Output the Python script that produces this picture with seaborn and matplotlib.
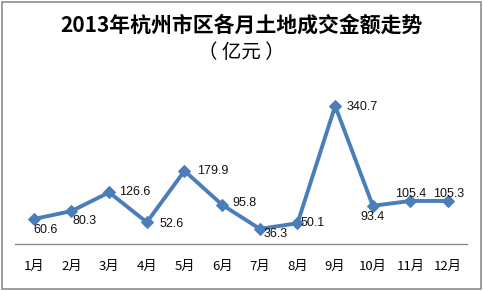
import matplotlib
matplotlib.use("Agg")
import matplotlib.pyplot as plt
import seaborn as sns
import pandas as pd
from matplotlib.patches import Rectangle

months = ["1月", "2月", "3月", "4月", "5月", "6月", "7月", "8月", "9月", "10月", "11月", "12月"]
values = [60.6, 80.3, 126.6, 52.6, 179.9, 95.8, 36.3, 50.1, 340.7, 93.4, 105.4, 105.3]
labels = ["60.6", "80.3", "126.6", "52.6", "179.9", "95.8", "36.3", "50.1", "340.7", "93.4", "105.4", "105.3"]

sns.set_theme(style="white")
plt.rcParams['font.family'] = ['Noto Sans CJK SC', 'DejaVu Sans']

df = pd.DataFrame({"month": months, "value": values})

W, H = 483, 291
fig = plt.figure(figsize=(W / 100, H / 100), dpi=100)
ax = fig.add_axes([15 / W, 1 - 243.5 / H, (467 - 15) / W, (243.5 - 82) / H])

color = "#4a7ebb"
sns.lineplot(data=df, x="month", y="value", ax=ax, color=color, linewidth=2.8,
             marker="D", markersize=6.5, markeredgecolor=color, sort=False)

ax.set_xlim(-0.5, 11.5)
ax.set_ylim(0, 400)
ax.set_xlabel("")
ax.set_ylabel("")
ax.set_yticks([])
for s in ["top", "left", "right"]:
    ax.spines[s].set_visible(False)
ax.spines["bottom"].set_color("#888888")
ax.spines["bottom"].set_linewidth(1)
ax.tick_params(axis="x", length=0, labelsize=9.5, pad=12, colors="black")

# label offsets in points (dx, dy) and alignment
offs = [(0, -8, "left"), (1, -7, "left"), (7, 0, "left"), (9, -1, "left"),
        (9, 0, "left"), (7, 1, "left"), (3, -4, "left"), (2, 0, "left"),
        (8, -1, "left"), (0, -8, "center"), (0, 5, "center"), (0, 5, "center")]
for i, (v, lab) in enumerate(zip(values, labels)):
    dx, dy, ha = offs[i]
    ax.annotate(lab, (i, v), xytext=(dx, dy), textcoords="offset points",
                ha=ha, va="center", fontsize=9, color="#111111", family="Liberation Sans")

fig.text(0.5, 1 - 25 / H, "2013年杭州市区各月土地成交金额走势", ha="center", va="center",
         fontsize=15, fontweight="bold", color="black")
fig.text(0.5, 1 - 52 / H, "（ 亿元 ）", ha="center", va="center", fontsize=14, color="black")

fig.patches.append(Rectangle((2 / W, 2 / H), (W - 4) / W, (H - 4) / H, transform=fig.transFigure,
                             fill=False, edgecolor="#8c8c8c", linewidth=1.2))

fig.savefig("out.png", dpi=100)
